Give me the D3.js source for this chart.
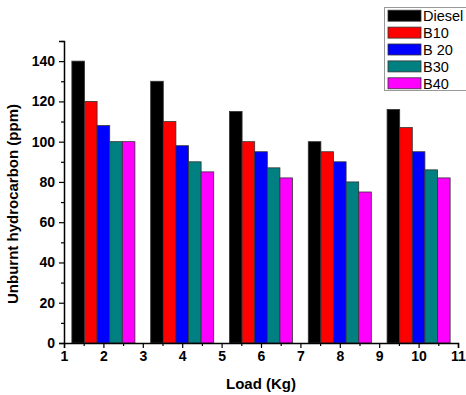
<!DOCTYPE html>
<html>
<head>
<meta charset="utf-8">
<script src="https://cdn.jsdelivr.net/npm/d3@7"></script>
<style>
  body { margin: 0; background: #fff; }
  svg { display: block; font-family: Arial, "Liberation Sans", sans-serif; }
</style>
</head>
<body>
<div id="chart"></div>
<script>
// Load values (Kg) where each bar group is centred
const loads = [2, 4, 6, 8, 10];
const seriesNames = ["Diesel", "B10", "B 20", "B30", "B40"];
const diesel = [140, 130, 115, 100, 116];
const b10    = [120, 110, 100, 95, 107];
const b20    = [108, 98, 95, 90, 95];
const b30    = [100, 90, 87, 80, 86];
const b40    = [100, 85, 82, 75, 82];
const xTicks = [1, 2, 3, 4, 5, 6, 7, 8, 9, 10, 11];
const yTicks = [0, 20, 40, 60, 80, 100, 120, 140];

const SERIES_COLORS = ["#000000", "#ff0000", "#0000ff", "#008080", "#ff00ff"];
const seriesValues = [diesel, b10, b20, b30, b40];

const width = 466, height = 395;
const margin = { top: 41, right: 8, bottom: 52, left: 64 };
const barW = 0.32; // bar width in load units

const svg = d3.select("#chart").append("svg")
  .attr("width", width)
  .attr("height", height);

const x = d3.scaleLinear().domain([1, 11]).range([margin.left, width - margin.right]);
const y = d3.scaleLinear().domain([0, 150]).range([height - margin.bottom, margin.top]);

// Bars
seriesValues.forEach((vals, si) => {
  svg.append("g")
    .selectAll("rect")
    .data(vals.map((v, i) => ({ load: loads[i], v })))
    .join("rect")
    .attr("x", d => x(d.load + (si - 2.5) * barW))
    .attr("width", x(1 + barW) - x(1))
    .attr("y", d => y(d.v))
    .attr("height", d => y(0) - y(d.v))
    .attr("fill", SERIES_COLORS[si])
    .attr("stroke", "#333")
    .attr("stroke-width", 0.8);
});

// Axes: major ticks + minor ticks
svg.append("g")
  .attr("transform", `translate(0,${y(0)})`)
  .call(d3.axisBottom(x).tickValues(xTicks).tickFormat(d3.format("d")).tickSize(5).tickPadding(3));
svg.append("g")
  .attr("transform", `translate(0,${y(0)})`)
  .call(d3.axisBottom(x).tickValues(d3.range(1.5, 11, 1)).tickFormat("").tickSize(3))
  .select(".domain").remove();

svg.append("g")
  .attr("transform", `translate(${x(1)},0)`)
  .call(d3.axisLeft(y).tickValues(yTicks).tickFormat(d3.format("d")).tickSize(5).tickPadding(4));
svg.append("g")
  .attr("transform", `translate(${x(1)},0)`)
  .call(d3.axisLeft(y).tickValues(d3.range(10, 151, 20)).tickFormat("").tickSize(3))
  .select(".domain").remove();

svg.selectAll(".domain").attr("stroke", "#000").attr("stroke-width", 1.5);
svg.selectAll(".tick line").attr("stroke", "#000").attr("stroke-width", 1.2);
svg.selectAll(".tick text")
  .attr("font-size", "14px")
  .attr("font-weight", "bold")
  .attr("font-family", "Arial, 'Liberation Sans', sans-serif")
  .attr("fill", "#000");

// Axis titles
svg.append("text")
  .attr("x", 261)
  .attr("y", 389)
  .attr("text-anchor", "middle")
  .attr("font-size", "15px")
  .attr("font-weight", "bold")
  .text("Load (Kg)");

svg.append("text")
  .attr("transform", `translate(18,204) rotate(-90)`)
  .attr("text-anchor", "middle")
  .attr("font-size", "15px")
  .attr("font-weight", "bold")
  .text("Unburnt hydrocarbon (ppm)");

// Legend
const legend = svg.append("g");
legend.append("rect")
  .attr("x", 384.5).attr("y", 7.5)
  .attr("width", 90).attr("height", 83)
  .attr("fill", "#fff")
  .attr("stroke", "#999")
  .attr("stroke-width", 1);

const item = legend.selectAll("g.item")
  .data(seriesNames)
  .join("g")
  .attr("class", "item")
  .attr("transform", (d, i) => `translate(388,${15.7 + i * 16.9})`);

item.append("rect")
  .attr("x", 0).attr("y", -5.5)
  .attr("width", 33).attr("height", 11)
  .attr("fill", (d, i) => SERIES_COLORS[i])
  .attr("stroke", "#333")
  .attr("stroke-width", 0.8);

item.append("text")
  .attr("x", 35).attr("y", 5.5)
  .attr("font-size", "14.5px")
  .attr("fill", "#000")
  .text(d => d);
</script>
</body>
</html>
